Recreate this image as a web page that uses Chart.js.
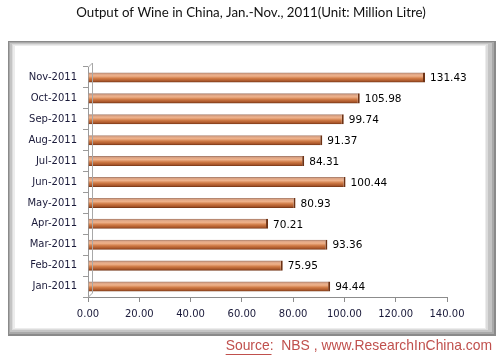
<!DOCTYPE html>
<html>
<head>
<meta charset="utf-8">
<script src="https://cdn.jsdelivr.net/npm/chart.js@4/dist/chart.umd.min.js"></script>
<style>
html,body{margin:0;padding:0;background:#fff;}
#wrap{width:503px;height:357px;position:relative;}
</style>
</head>
<body>
<div id="wrap"><canvas id="c" width="503" height="357"></canvas></div>
<script>
const categories = ['Jan-2011','Feb-2011','Mar-2011','Apr-2011','May-2011','Jun-2011','Jul-2011','Aug-2011','Sep-2011','Oct-2011','Nov-2011'];
const outputValues = [94.44, 75.95, 93.36, 70.21, 80.93, 100.44, 84.31, 91.37, 99.74, 105.98, 131.43];
const xTickMin = 0, xTickMax = 140, xTickStep = 20;
const titleText = 'Output of Wine in China, Jan.-Nov., 2011(Unit: Million Litre)';
const sourceLabel = 'Source:';
const sourceRest = '  NBS , www.ResearchInChina.com';

const BAR_PCT = 0.48;

const framePlugin = {
  id: 'frame',
  beforeDraw(chart) {
    const c = chart.ctx;
    c.save();
    c.fillStyle = '#fff';
    c.fillRect(0, 0, chart.width, chart.height);
    // bevelled frame
    c.fillStyle = '#8a8a8a'; c.fillRect(8, 41, 488, 295);
    c.fillStyle = '#a9a9a9'; c.fillRect(9, 42, 485, 292);
    c.fillStyle = '#c4c4c4'; c.fillRect(10, 43, 482, 289);
    c.fillStyle = '#dcdcdc'; c.fillRect(12, 44, 476, 286);
    c.fillStyle = '#ececec'; c.fillRect(13, 45, 473, 284);
    c.fillStyle = '#ffffff'; c.fillRect(15, 46, 470, 282);
    // title
    c.fillStyle = '#111';
    c.font = '13.3px Lato';
    c.textAlign = 'center';
    c.textBaseline = 'middle';
    c.fillText(titleText, 251, 13);
    // source
    c.font = '13.9px "Liberation Sans"';
    c.fillStyle = '#c0504d';
    c.textAlign = 'left';
    const wRest = c.measureText(sourceRest).width;
    const wLab = c.measureText(sourceLabel).width;
    const xEnd = 492;
    const x0 = xEnd - wRest - wLab;
    c.fillText(sourceLabel, x0, 346);
    c.fillText(sourceRest, x0 + wLab, 346);
    c.fillRect(x0, 354, wLab - 2, 1);
    c.restore();
  },
  afterDraw(chart) {
    const c = chart.ctx, a = chart.chartArea;
    c.save();
    c.strokeStyle = '#a8a8a8';
    c.lineWidth = 1;
    c.beginPath();
    c.moveTo(a.left + 0.5, a.top);
    c.lineTo(a.left + 4.5, a.top - 4);
    c.lineTo(a.left + 4.5, a.bottom - 4);
    c.lineTo(a.left + 0.5, a.bottom);
    c.stroke();
    c.restore();
  }
};

const labelPlugin = {
  id: 'vals',
  afterDatasetsDraw(chart) {
    const c = chart.ctx;
    const meta = chart.getDatasetMeta(0);
    c.save();
    c.font = '10.5px "DejaVu Sans"';
    c.fillStyle = '#000';
    c.textAlign = 'left';
    c.textBaseline = 'middle';
    meta.data.forEach((el, i) => {
      c.fillText(outputValues[i].toFixed(2), el.x + 5, el.y + 1);
    });
    c.restore();
  }
};

new Chart(document.getElementById('c'), {
  type: 'bar',
  data: {
    labels: categories,
    datasets: [{
      data: outputValues,
      categoryPercentage: 1,
      barPercentage: BAR_PCT,
      borderWidth: {top: 0, bottom: 0, left: 0, right: 2},
      borderColor: '#6e3214',
      borderSkipped: false,
      backgroundColor: (ctx) => {
        const chart = ctx.chart;
        const area = chart.chartArea;
        if (!area || ctx.type !== 'data' || !chart.scales.y) return '#c87d4f';
        const y = chart.scales.y.getPixelForValue(ctx.dataIndex);
        const h = (area.bottom - area.top) / categories.length * BAR_PCT;
        const g = chart.ctx.createLinearGradient(0, y - h / 2, 0, y + h / 2);
        g.addColorStop(0, '#9a7464');
        g.addColorStop(0.15, '#dca485');
        g.addColorStop(0.35, '#efb28b');
        g.addColorStop(0.6, '#cf7a45');
        g.addColorStop(0.85, '#a9562a');
        g.addColorStop(1, '#6e3214');
        return g;
      }
    }]
  },
  options: {
    indexAxis: 'y',
    responsive: false,
    animation: false,
    layout: {padding: {left: 0, right: 56, top: 67, bottom: 0}},
    plugins: {legend: {display: false}, tooltip: {enabled: false}, title: {display: false}},
    scales: {
      x: {
        min: xTickMin, max: xTickMax,
        ticks: {stepSize: xTickStep, color: '#1a1a3a', font: {family: 'DejaVu Sans', size: 10}, padding: 6,
          callback: (v) => Number(v).toFixed(2)},
        grid: {drawOnChartArea: false, tickLength: 5, color: '#8c8c8c'},
        border: {color: '#8c8c8c'},
        afterFit: (s) => { s.height = 60; }
      },
      y: {
        reverse: true,
        ticks: {color: '#1a1a3a', font: {family: 'DejaVu Sans', size: 10}, padding: 6},
        grid: {drawOnChartArea: false, tickLength: 5, color: '#9a9a9a', offset: true},
        border: {color: '#9a9a9a'},
        afterFit: (s) => { s.width = 88; }
      }
    }
  },
  plugins: [framePlugin, labelPlugin]
});
</script>
</body>
</html>
